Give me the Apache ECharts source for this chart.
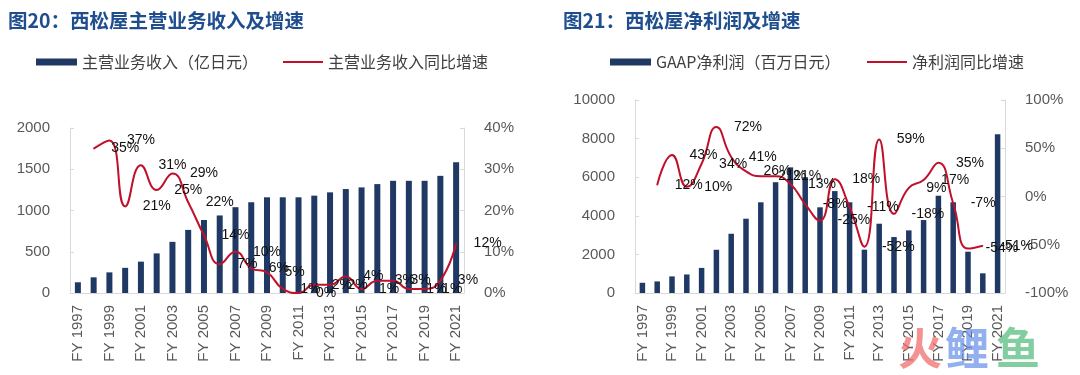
<!DOCTYPE html>
<html>
<head>
<meta charset="utf-8">
<script src="https://cdn.jsdelivr.net/npm/echarts@6/dist/echarts.min.js"></script>
<style>
  html, body { margin: 0; padding: 0; background: #fff; }
  #main { width: 1080px; height: 375px; }
</style>
</head>
<body>
<div id="main"></div>
<script>
// years shared by both charts
var years = ['FY 1997', 'FY 1998', 'FY 1999', 'FY 2000', 'FY 2001', 'FY 2002', 'FY 2003',
  'FY 2004', 'FY 2005', 'FY 2006', 'FY 2007', 'FY 2008', 'FY 2009', 'FY 2010', 'FY 2011',
  'FY 2012', 'FY 2013', 'FY 2014', 'FY 2015', 'FY 2016', 'FY 2017', 'FY 2018', 'FY 2019',
  'FY 2020', 'FY 2021'];

// 图20 主营业务收入（亿日元）及同比增速（%）
var revenue = [130, 190, 250, 305, 380, 480, 620, 765, 885, 940, 1040, 1100, 1160,
  1160, 1160, 1180, 1220, 1260, 1280, 1320, 1360, 1360, 1360, 1420, 1585];
var revenueGrowth = [null, 35, 37, 21, 31, 25, 29, 22, 14, 7, 10, 6, 5,
  1, 0, 2, 2, 4, 1, 3, 3, 1, 1, 3, 12];

// 图21 GAAP净利润（百万日元）及同比增速（%）
var profit = [530, 600, 860, 960, 1300, 2240, 3070, 3850, 4700, 5740, 6510, 6000, 4440,
  5280, 4700, 2245, 3590, 2900, 3245, 3780, 5040, 4700, 2140, 1020, 8220];
var profitGrowth = [null, 12, 43, 10, 34, 72, 41, 26, 21, 21, 13, -8, -25,
  18, -11, -52, 59, -18, 9, 17, 35, -7, -54, -51, null];

var leftTicks = { min: 0, max: 2000, interval: 500 };
var leftPctTicks = { min: 0, max: 40, interval: 10 };
var rightTicks = { min: 0, max: 10000, interval: 2000 };
var rightPctTicks = { min: -100, max: 100, interval: 50 };

var BAR = '#1F3864';
var LINE = '#C0102A';
var AXIS = '#D9D9D9';
var TXT = '#595959';
var FONT = '"Liberation Sans", Arial, sans-serif';
var CJK = '"Noto Sans CJK SC", sans-serif';

function xAxis(grid) {
  return {
    type: 'category',
    gridIndex: grid,
    data: years,
    axisLine: { lineStyle: { color: AXIS, width: 1 } },
    axisTick: { show: false },
    axisLabel: { interval: 1, rotate: 90, margin: 12, color: TXT, fontSize: 15, fontFamily: FONT }
  };
}

function yAxis(grid, ticks, pos, suffix) {
  return {
    type: 'value',
    gridIndex: grid,
    position: pos,
    min: ticks.min,
    max: ticks.max,
    interval: ticks.interval,
    splitLine: { show: false },
    axisLine: { show: true, lineStyle: { color: AXIS, width: 1 } },
    axisTick: { show: true, inside: true, length: 4, lineStyle: { color: AXIS } },
    axisLabel: {
      margin: 20, color: TXT, fontSize: 15, fontFamily: FONT,
      formatter: function(v) { return String(v) + suffix; }
    }
  };
}

function legend(name, left, w, h) {
  return {
    data: [name],
    left: left,
    top: 49,
    icon: 'rect',
    itemWidth: w,
    itemHeight: h,
    selectedMode: false,
    textStyle: { color: '#404040', fontSize: 16, fontFamily: CJK }
  };
}

function growthLine(name, xi, yi, data) {
  return {
    name: name,
    type: 'line',
    xAxisIndex: xi,
    yAxisIndex: yi,
    data: data,
    smooth: true,
    // labels need a symbol to hang on, keep it invisible
    symbol: 'circle',
    symbolSize: 1,
    showSymbol: true,
    z: 5,
    itemStyle: { color: LINE },
    lineStyle: { color: LINE, width: 2 },
    label: {
      show: true,
      position: 'right',
      distance: 17,
      color: '#111',
      fontSize: 14,
      fontFamily: FONT,
      formatter: function(p) { return p.value + '%'; }
    },
    labelLayout: { hideOverlap: false }
  };
}

var chart = echarts.init(document.getElementById('main'), null, { renderer: 'canvas' });

var option = {
  animation: false,
  backgroundColor: '#fff',
  title: [
    { text: '图20：西松屋主营业务收入及增速', left: 3, top: 6,
      textStyle: { color: '#1F4E8F', fontSize: 19.5, fontWeight: 'bold', fontFamily: CJK } },
    { text: '图21：西松屋净利润及增速', left: 558, top: 6,
      textStyle: { color: '#1F4E8F', fontSize: 19.5, fontWeight: 'bold', fontFamily: CJK } }
  ],
  legend: [
    legend('主营业务收入（亿日元）', 31, 41, 7),
    legend('主营业务收入同比增速', 278, 40, 2),
    legend('GAAP净利润（百万日元）', 605, 41, 7),
    legend('净利润同比增速', 862, 40, 2)
  ],
  grid: [
    { left: 70, top: 128, width: 394, height: 165, containLabel: false, outerBoundsMode: 'none' },
    { left: 635, top: 100, width: 370, height: 193, containLabel: false, outerBoundsMode: 'none' }
  ],
  xAxis: [xAxis(0), xAxis(1)],
  yAxis: [
    yAxis(0, leftTicks, 'left', ''),
    yAxis(0, leftPctTicks, 'right', '%'),
    yAxis(1, rightTicks, 'left', ''),
    yAxis(1, rightPctTicks, 'right', '%')
  ],
  series: [
    { name: '主营业务收入（亿日元）', type: 'bar', xAxisIndex: 0, yAxisIndex: 0,
      data: revenue, barWidth: 6, itemStyle: { color: BAR } },
    growthLine('主营业务收入同比增速', 0, 1, revenueGrowth),
    { name: 'GAAP净利润（百万日元）', type: 'bar', xAxisIndex: 1, yAxisIndex: 2,
      data: profit, barWidth: 5.5, itemStyle: { color: BAR } },
    growthLine('净利润同比增速', 1, 3, profitGrowth)
  ],
  graphic: [
    { type: 'text', left: 898, top: 326, z: 100, style: { text: '火', fontSize: 44, fontWeight: 'bold', fontFamily: CJK, fill: 'rgba(240,110,110,0.75)' } },
    { type: 'text', left: 945, top: 326, z: 100, style: { text: '鲤', fontSize: 44, fontWeight: 'bold', fontFamily: CJK, fill: 'rgba(110,150,235,0.75)' } },
    { type: 'text', left: 996, top: 326, z: 100, style: { text: '鱼', fontSize: 44, fontWeight: 'bold', fontFamily: CJK, fill: 'rgba(90,190,130,0.75)' } }
  ]
};

chart.setOption(option);
</script>
</body>
</html>
